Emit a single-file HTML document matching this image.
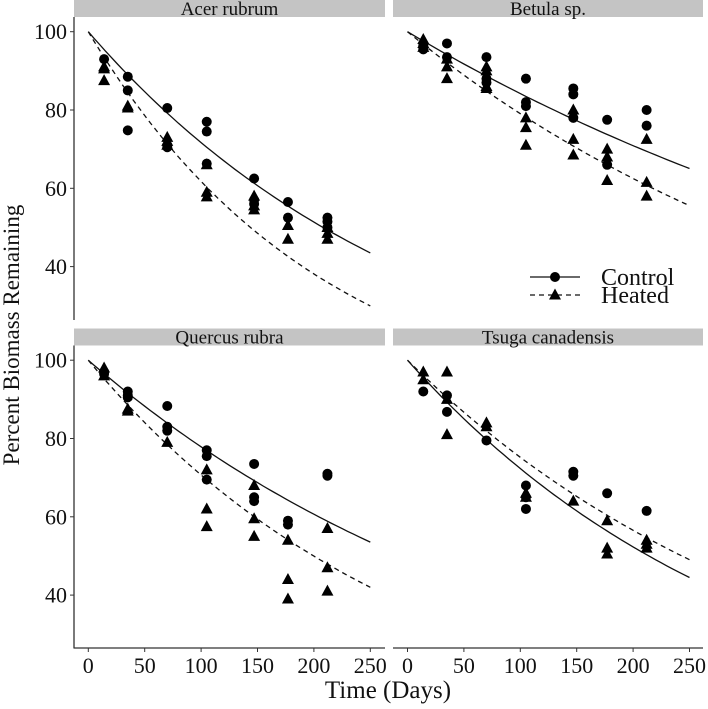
<!DOCTYPE html>
<html><head><meta charset="utf-8"><style>
body{margin:0;background:#fff}
svg{display:block;font-family:"Liberation Serif",serif}
</style></head><body>
<svg id="c" width="708" height="709" viewBox="0 0 708 709"></svg>
<script>
const panelNames = ["Acer rubrum","Betula sp.","Quercus rubra","Tsuga canadensis"];
const times = [14,35,70,105,147,177,212];
const xTicks = [0,50,100,150,200,250];
const yTicks = [40,60,80,100];
// decay rates k for fitted curves 100*exp(-k t)
const kControl = [0.00333,0.00172,0.0025,0.00324];
const kHeated = [0.00482,0.00235,0.00347,0.00285];
// observations per panel: arrays per time index
const controlVals = [
 [[93],[88.5,85,74.8],[80.5,71,70.5],[77,74.5,66.3],[62.5,57,56],[56.5,52.5],[52.5,51.5,50]],
 [[96.5,95.5],[97,93.5],[93.5,88,87],[88,82,81],[85.5,84,78],[77.5,66],[80,76]],
 [[97,96.5],[92,91,90.5],[88.3,83,82],[77,75.5,69.5],[73.5,65,64],[59,58],[71,70.5]],
 [[92],[91,86.8],[79.5],[68,65,62],[71.5,70.5],[66],[61.5]]
];
const heatedVals = [
 [[91,90.5,87.5],[81,80.5],[73,72,71],[66,59,57.8],[58,55.5,54.5],[50.5,47],[50,48.5,47]],
 [[98,97,96],[93,91,88],[91,90,86,85.5],[78,75.5,71],[80,72.5,68.5],[70,68,62],[72.5,61.5,58]],
 [[98,96],[87.5,87],[79],[72,62,57.5],[68,59.5,55],[54,44,39],[57,47,41]],
 [[97,95],[97,90,81],[84,83],[66,65],[64],[59,52,50.5],[54,53,52]]
];
const NS="http://www.w3.org/2000/svg";
const svg=document.getElementById('c');
function mk(t,a,p){const e=document.createElementNS(NS,t);for(const k in a)e.setAttribute(k,a[k]);(p||svg).appendChild(e);return e;}
const panels=[
 {x0:88.3,hx:74,hw:311,top:0,yAxis:true,xAxis:false},
 {x0:407.5,hx:393,hw:310,top:0,yAxis:false,xAxis:false},
 {x0:88.3,hx:74,hw:311,top:328.5,yAxis:true,xAxis:true},
 {x0:407.5,hx:393,hw:310,top:328.5,yAxis:false,xAxis:true}
];
const pxPer=56.4/50, yPer=78.3/20;
panels.forEach((P,i)=>{
 const g=mk('g',{});
 
 
 const X=t=>P.x0+t*pxPer, Y=v=>P.top+31.7+(100-v)*yPer;
 const h=mk('rect',{x:P.hx,y:P.top,width:P.hw,height:17,fill:'#c4c4c4'},g);
 
 const ht=mk('text',{x:P.hx+P.hw/2,y:P.top+15,'text-anchor':'middle','font-size':19,fill:'#111'},g);
 ht.textContent=panelNames[i];
 if(P.yAxis){
  const a=mk('line',{x1:74,x2:74,y1:P.top+17,y2:P.top+320,stroke:'#333','stroke-width':1.3},g);
  
  yTicks.forEach(v=>{
   mk('line',{x1:70,x2:74,y1:Y(v),y2:Y(v),stroke:'#333'},g);
   const t=mk('text',{x:67,y:Y(v)+7.5,'text-anchor':'end','font-size':22,fill:'#111'},g);
   t.textContent=v;
  });
 }
 if(P.xAxis){
  const a=mk('line',{x1:P.hx,x2:P.hx+P.hw,y1:648,y2:648,stroke:'#333','stroke-width':1.3},g);
  
  xTicks.forEach(v=>{
   mk('line',{x1:X(v),x2:X(v),y1:648,y2:652,stroke:'#333'},g);
   const t=mk('text',{x:X(v),y:673,'text-anchor':'middle','font-size':22,fill:'#111'},g);
   t.textContent=v;
  });
 }
 [[kControl[i],'none'],[kHeated[i],'5,4']].forEach(([k,d],j)=>{
  let pts=[];for(let t=0;t<=250;t+=5)pts.push(X(t).toFixed(1)+','+Y(100*Math.exp(-k*t)).toFixed(1));
  const l=mk('polyline',{points:pts.join(' '),fill:'none',stroke:'#111','stroke-width':1.3,'stroke-dasharray':d},g);
  
 });
 controlVals[i].forEach((arr,ti)=>arr.forEach(v=>{
  const c=mk('circle',{cx:X(times[ti]),cy:Y(v),r:5,fill:'#000'},g);
  
 }));
 heatedVals[i].forEach((arr,ti)=>arr.forEach(v=>{
  const x=X(times[ti]),y=Y(v);
  const p=mk('polygon',{points:`${x},${y-6.5} ${x-6},${y+4.5} ${x+6},${y+4.5}`,fill:'#000'},g);
  
 }));
});
// legend
const lg=mk('g',{});
mk('line',{x1:530,x2:580,y1:277,y2:277,stroke:'#111','stroke-width':1.3},lg);
mk('circle',{cx:555,cy:277,r:5,fill:'#000'},lg);
mk('line',{x1:530,x2:580,y1:295,y2:295,stroke:'#111','stroke-width':1.3,'stroke-dasharray':'5,4'},lg);
mk('polygon',{points:'555,288.5 549,299.5 561,299.5',fill:'#000'},lg);
const l1=mk('text',{x:601,y:285,'font-size':24,fill:'#111'},lg);l1.textContent='Control';

const l2=mk('text',{x:601,y:303,'font-size':24,fill:'#111'},lg);l2.textContent='Heated';

const xt=mk('text',{x:388,y:698,'text-anchor':'middle','font-size':25,fill:'#111'});xt.textContent='Time (Days)';

const yt=mk('text',{x:0,y:0,'text-anchor':'middle','font-size':23,fill:'#111',transform:'translate(19,335) rotate(-90)'});yt.textContent='Percent Biomass Remaining';

</script>
</body></html>
